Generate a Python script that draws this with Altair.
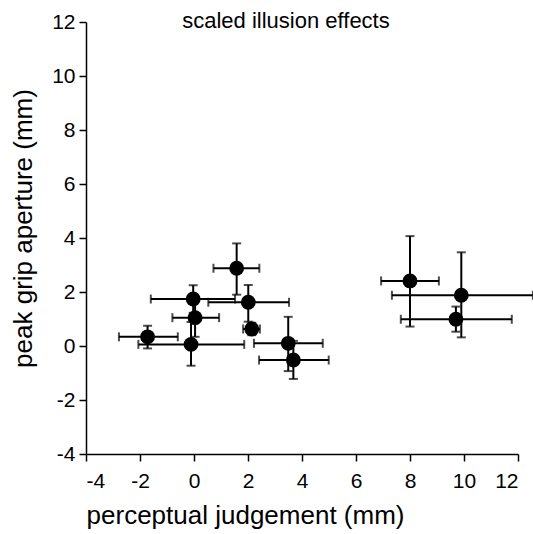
import altair as alt
import pandas as pd

x = [-1.72, -0.11, 0.04, -0.03, 1.58, 2.01, 2.14, 3.49, 3.68, 8.0, 9.9, 9.7]
y = [0.34, 0.06, 1.05, 1.74, 2.88, 1.62, 0.63, 0.10, -0.52, 2.41, 1.88, 0.99]
x_lo = [-2.78, -2.06, -0.80, -1.60, 0.72, 0.53, 1.82, 2.22, 2.41, 6.93, 7.33, 7.66]
x_hi = [-0.60, 1.86, 0.93, 1.52, 2.42, 3.52, 2.44, 4.77, 4.99, 9.07, 12.55, 11.77]
y_lo = [-0.09, -0.73, 0.34, 1.23, 1.90, 0.90, 0.40, -0.93, -1.22, 0.72, 0.32, 0.53]
y_hi = [0.75, 0.89, 1.76, 2.25, 3.80, 2.26, 0.86, 1.08, 0.19, 4.07, 3.47, 1.46]
ticks = [-4, -2, 0, 2, 4, 6, 8, 10, 12]

df = pd.DataFrame(dict(x=x, y=y, x_lo=x_lo, x_hi=x_hi, y_lo=y_lo, y_hi=y_hi))

FONT = "Liberation Sans"
xs = alt.Scale(domain=[-4, 12], nice=False, zero=False)
ys = alt.Scale(domain=[-4, 12], nice=False, zero=False)
xax = alt.Axis(values=ticks, title="perceptual judgement (mm)", titleFontSize=26,
               labelFontSize=21, labelPadding=9, labelExpr="'' + datum.value",
               titleX=159, titleY=69, titleBaseline="alphabetic", titleAlign="center")
yax = alt.Axis(values=ticks, title="peak grip aperture (mm)", titleFontSize=26,
               labelFontSize=21, labelPadding=4, labelExpr="'' + datum.value",
               titleX=-55, titleY=206, titleBaseline="alphabetic", titleAlign="center")

base = alt.Chart(df)
X = alt.X("x:Q", scale=xs, axis=xax)
Y = alt.Y("y:Q", scale=ys, axis=yax)

hbar = base.mark_rule(color="black", strokeWidth=2).encode(x=alt.X("x_lo:Q", scale=xs, axis=xax), x2="x_hi:Q", y=Y)
vbar = base.mark_rule(color="black", strokeWidth=2).encode(x=X, y=alt.Y("y_lo:Q", scale=ys, axis=yax), y2="y_hi:Q")
cap_l = base.mark_tick(color="black", orient="vertical", size=9, thickness=2).encode(x=alt.X("x_lo:Q", scale=xs, axis=xax), y=Y)
cap_r = base.mark_tick(color="black", orient="vertical", size=9, thickness=2).encode(x=alt.X("x_hi:Q", scale=xs, axis=xax), y=Y)
cap_b = base.mark_tick(color="black", orient="horizontal", size=9, thickness=2).encode(x=X, y=alt.Y("y_lo:Q", scale=ys, axis=yax))
cap_t = base.mark_tick(color="black", orient="horizontal", size=9, thickness=2).encode(x=X, y=alt.Y("y_hi:Q", scale=ys, axis=yax))
pts = base.mark_circle(color="black", opacity=1, size=220).encode(x=X, y=Y)

chart = alt.layer(hbar, vbar, cap_l, cap_r, cap_b, cap_t, pts).properties(
    width=432, height=432,
    autosize=alt.AutoSizeParams(type="none"),
    padding={"left": 86, "top": 22, "right": 15, "bottom": 80},
    title=alt.TitleParams("scaled illusion effects", fontSize=22, font=FONT,
                          fontWeight="normal", anchor="middle", dx=-16, dy=26,
                          color="black"),
).configure_view(stroke=None).configure_axis(
    grid=False, domainColor="black", domainWidth=1.5, tickColor="black", tickWidth=1.5,
    tickSize=7, labelColor="black", titleColor="black", labelFont=FONT, titleFont=FONT,
    titleFontWeight="normal",
)

chart.save("out.html", embed_options={"renderer": "svg", "actions": False})
